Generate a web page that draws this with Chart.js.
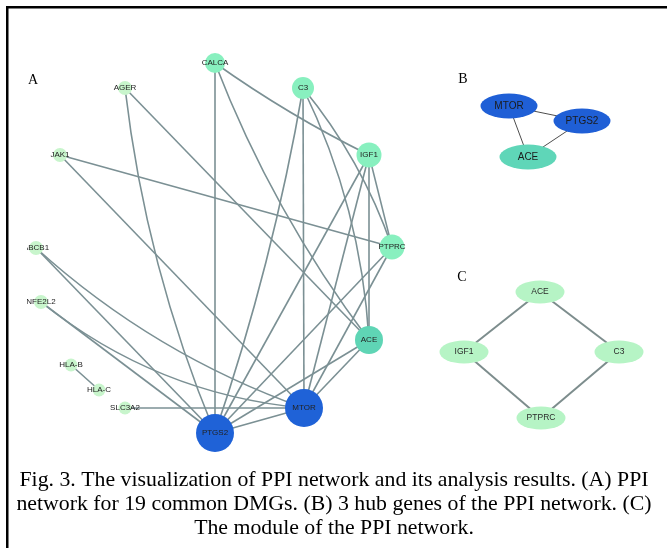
<!DOCTYPE html>
<html>
<head>
<meta charset="utf-8">
<script src="https://cdn.jsdelivr.net/npm/chart.js@4.4.1/dist/chart.umd.min.js"></script>
<style>
  html, body { margin: 0; padding: 0; background: #ffffff; }
  #wrap { position: relative; width: 667px; height: 548px; }
  canvas { display: block; }
</style>
</head>
<body>
<div id="wrap"><canvas id="ppi" width="667" height="548"></canvas></div>
<script>
// ---- Panel A: PPI network (circular layout) ----
const nodeNames  = ['CALCA', 'AGER', 'C3', 'IGF1', 'JAK1', 'PTPRC', 'ABCB1', 'NFE2L2', 'ACE', 'HLA-B', 'HLA-C', 'SLC3A2', 'MTOR', 'PTGS2'];
const nodeX      = [215, 125, 303, 369, 60, 392, 36, 41, 369, 71, 99, 125, 304, 215];
const nodeY      = [63, 88, 88, 155, 155, 247, 248, 302, 340, 365, 390, 408, 408, 433];
const nodeDegree = [3, 2, 4, 5, 2, 5, 2, 2, 6, 1, 1, 1, 9, 9];

// interactions (source, target, curvature of the drawn edge)
const edgeFrom = ['AGER', 'AGER', 'JAK1', 'JAK1', 'CALCA', 'CALCA', 'CALCA', 'C3', 'C3', 'C3', 'C3', 'IGF1', 'IGF1', 'IGF1', 'IGF1', 'PTPRC', 'PTPRC', 'ACE', 'ACE', 'MTOR', 'ABCB1', 'ABCB1', 'NFE2L2', 'NFE2L2', 'HLA-B', 'SLC3A2'];
const edgeTo   = ['PTGS2', 'ACE', 'PTPRC', 'MTOR', 'PTGS2', 'IGF1', 'ACE', 'PTGS2', 'MTOR', 'ACE', 'PTPRC', 'PTGS2', 'MTOR', 'ACE', 'PTPRC', 'PTGS2', 'MTOR', 'MTOR', 'PTGS2', 'PTGS2', 'PTGS2', 'MTOR', 'PTGS2', 'MTOR', 'HLA-C', 'MTOR'];
const edgeBend = [0.035, 0, 0, 0, 0, 0.02, 0.035, -0.02, 0, -0.05, -0.045, 0, 0, 0, 0, 0, 0, 0, 0, 0, 0, 0.05, 0, 0.075, 0, 0];

// ---- Panel B: hub genes ----
const hubNames = ['MTOR', 'PTGS2', 'ACE'];
const hubX     = [509, 582, 528];
const hubY     = [106, 121, 157];
const hubFrom  = ['MTOR', 'MTOR', 'PTGS2'];
const hubTo    = ['PTGS2', 'ACE', 'ACE'];

// ---- Panel C: network module ----
const modNames = ['ACE', 'IGF1', 'C3', 'PTPRC'];
const modX     = [540, 464, 619, 541];
const modY     = [292, 352, 352, 418];
const modFrom  = ['ACE', 'ACE', 'IGF1', 'C3'];
const modTo    = ['IGF1', 'C3', 'PTPRC', 'PTPRC'];

const captionLines = [
  'Fig. 3. The visualization of PPI network and its analysis results. (A) PPI',
  'network for 19 common DMGs. (B) 3 hub genes of the PPI network. (C)',
  'The module of the PPI network.'
];

// node size and colour follow the degree
function degreeRadius(d) {
  if (d >= 9) return 19;
  if (d >= 6) return 14;
  if (d >= 5) return 12.5;
  if (d >= 4) return 11;
  if (d >= 3) return 10;
  if (d >= 2) return 7;
  return 6.5;
}
function degreeColor(d) {
  if (d >= 9) return '#1f62d7';
  if (d >= 6) return '#5fd5b5';
  if (d >= 3) return '#88f0bf';
  return '#c8f5cc';
}

// ellipse marker used by panels B and C
function ellipseMarker(rx, ry, color) {
  const c = document.createElement('canvas');
  c.width = rx * 2; c.height = ry * 2;
  const g = c.getContext('2d');
  g.fillStyle = color;
  g.beginPath();
  g.ellipse(rx, ry, rx - 0.5, ry - 0.5, 0, 0, Math.PI * 2);
  g.fill();
  return c;
}
const blueEllipse  = ellipseMarker(29, 13, '#1f5fd6');
const tealEllipse  = ellipseMarker(29, 13, '#5fd6b8');
const mintEllipse  = ellipseMarker(25, 12, '#b6f4c5');

const idx = (names, n) => names.indexOf(n);
const pts = (xs, ys) => xs.map((x, i) => ({ x: x, y: ys[i] }));

const networkPlugin = {
  id: 'network',
  beforeDatasetsDraw(chart) {
    const ctx = chart.ctx, sx = chart.scales.x, sy = chart.scales.y;
    ctx.save();
    // panel A edges
    ctx.beginPath();
    ctx.rect(sx.getPixelForValue(27), 0, sx.getPixelForValue(440) - sx.getPixelForValue(27), sy.getPixelForValue(460));
    ctx.clip();
    ctx.strokeStyle = '#7b9094';
    ctx.lineWidth = 1.6;
    edgeFrom.forEach((f, i) => {
      const a = idx(nodeNames, f), b = idx(nodeNames, edgeTo[i]);
      const x1 = sx.getPixelForValue(nodeX[a]), y1 = sy.getPixelForValue(nodeY[a]);
      const x2 = sx.getPixelForValue(nodeX[b]), y2 = sy.getPixelForValue(nodeY[b]);
      const mx = (x1 + x2) / 2, my = (y1 + y2) / 2;
      const len = Math.hypot(x2 - x1, y2 - y1);
      const nx = -(y2 - y1) / len, ny = (x2 - x1) / len;
      const k = edgeBend[i] * len;
      ctx.beginPath();
      ctx.moveTo(x1, y1);
      ctx.quadraticCurveTo(mx + nx * k * 2, my + ny * k * 2, x2, y2);
      ctx.stroke();
    });
    ctx.restore();

    // panel B edges
    ctx.save();
    ctx.strokeStyle = '#4d4d4d';
    ctx.lineWidth = 1;
    hubFrom.forEach((f, i) => {
      const a = idx(hubNames, f), b = idx(hubNames, hubTo[i]);
      ctx.beginPath();
      ctx.moveTo(sx.getPixelForValue(hubX[a]), sy.getPixelForValue(hubY[a]));
      ctx.lineTo(sx.getPixelForValue(hubX[b]), sy.getPixelForValue(hubY[b]));
      ctx.stroke();
    });
    // panel C edges
    ctx.strokeStyle = '#7d8d8d';
    ctx.lineWidth = 2;
    modFrom.forEach((f, i) => {
      const a = idx(modNames, f), b = idx(modNames, modTo[i]);
      ctx.beginPath();
      ctx.moveTo(sx.getPixelForValue(modX[a]), sy.getPixelForValue(modY[a]));
      ctx.lineTo(sx.getPixelForValue(modX[b]), sy.getPixelForValue(modY[b]));
      ctx.stroke();
    });
    ctx.restore();
  },
  afterDatasetsDraw(chart) {
    const ctx = chart.ctx, sx = chart.scales.x, sy = chart.scales.y;
    ctx.save();
    ctx.textAlign = 'center';
    ctx.textBaseline = 'middle';
    // panel A labels
    ctx.beginPath();
    ctx.rect(sx.getPixelForValue(27), 0, 420, 548);
    ctx.clip();
    ctx.font = '8px "Liberation Sans", Arial, sans-serif';
    ctx.fillStyle = '#222';
    nodeNames.forEach((n, i) => {
      ctx.fillText(n, sx.getPixelForValue(nodeX[i]), sy.getPixelForValue(nodeY[i]));
    });
    ctx.restore();

    ctx.save();
    ctx.textAlign = 'center';
    ctx.textBaseline = 'middle';
    ctx.fillStyle = '#1c1c1c';
    ctx.font = '10px "Liberation Sans", Arial, sans-serif';
    hubNames.forEach((n, i) => {
      ctx.fillText(n, sx.getPixelForValue(hubX[i]), sy.getPixelForValue(hubY[i]));
    });
    ctx.font = '8.5px "Liberation Sans", Arial, sans-serif';
    ctx.fillStyle = '#2a2a2a';
    modNames.forEach((n, i) => {
      ctx.fillText(n, sx.getPixelForValue(modX[i]), sy.getPixelForValue(modY[i]));
    });

    // panel letters
    ctx.fillStyle = '#000';
    ctx.font = '14px "Liberation Serif", "Times New Roman", serif';
    ctx.fillText('A', 33, 80);
    ctx.fillText('B', 463, 79);
    ctx.fillText('C', 462, 277);

    // caption
    ctx.font = '21.8px "Liberation Serif", "Times New Roman", serif';
    ctx.textBaseline = 'alphabetic';
    ctx.fillText(captionLines[0], 334, 486);
    ctx.fillText(captionLines[1], 334, 510);
    ctx.fillText(captionLines[2], 334, 534);

    // figure frame (top and left rules)
    ctx.fillStyle = '#000';
    ctx.fillRect(6, 6, 661, 2.5);
    ctx.fillRect(6, 6, 2.5, 542);
    ctx.restore();
  }
};

new Chart(document.getElementById('ppi'), {
  type: 'scatter',
  data: {
    datasets: [
      {
        label: 'PPI network',
        data: pts(nodeX, nodeY),
        pointRadius: nodeDegree.map(degreeRadius),
        pointBackgroundColor: nodeDegree.map(degreeColor),
        pointBorderWidth: 0,
        pointHoverRadius: nodeDegree.map(degreeRadius)
      },
      {
        label: 'Hub genes',
        data: pts(hubX, hubY),
        pointStyle: [blueEllipse, blueEllipse, tealEllipse],
        pointBorderWidth: 0
      },
      {
        label: 'Module',
        data: pts(modX, modY),
        pointStyle: mintEllipse,
        pointBorderWidth: 0
      }
    ]
  },
  options: {
    responsive: false,
    animation: false,
    events: [],
    layout: { padding: 0, autoPadding: false },
    plugins: { legend: { display: false }, tooltip: { enabled: false } },
    scales: {
      x: { type: 'linear', min: 0, max: 667, display: false },
      y: { type: 'linear', min: 0, max: 548, reverse: true, display: false }
    }
  },
  plugins: [networkPlugin]
});
</script>
</body>
</html>
